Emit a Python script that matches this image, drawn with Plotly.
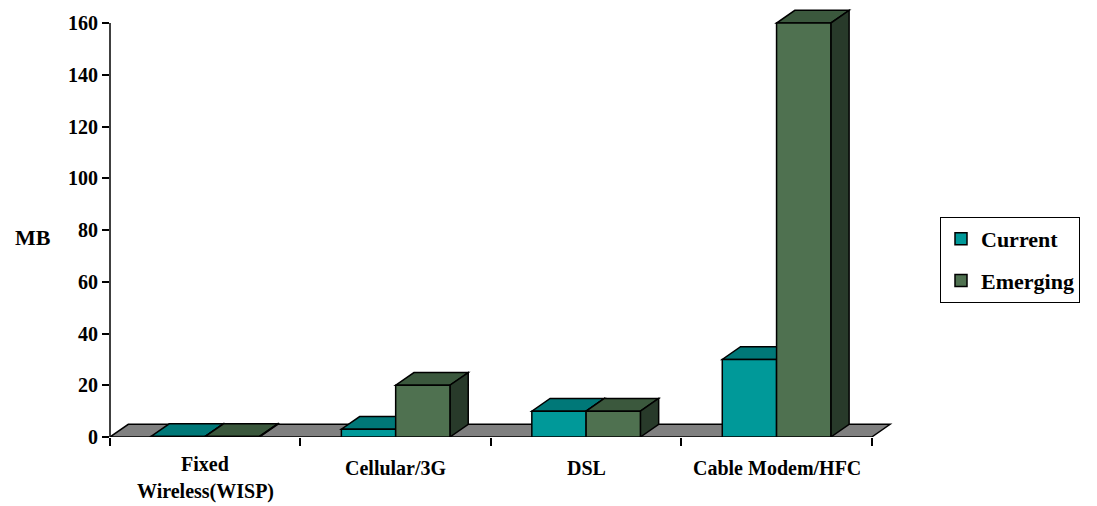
import plotly.graph_objects as go

# ---- data ----
categories = ["Fixed\nWireless(WISP)", "Cellular/3G", "DSL", "Cable Modem/HFC"]
series_names = ["Current", "Emerging"]
current = [0.2, 3, 10, 30]
emerging = [0.2, 20, 10, 160]
y_ticks = [0, 20, 40, 60, 80, 100, 120, 140, 160]
y_title = "MB"

# ---- style ----
W = 0.285      # bar width (category units)
DX = 0.096     # 3D depth, x (category units)
DY = 4.9       # 3D depth, y (data units)
FONT = "'Liberation Serif', Tinos, 'Times New Roman', serif"
styles = {
    "Current": dict(front="#009999", top="#007878", side="#005A5A", offset=-W),
    "Emerging": dict(front="#4F7150", top="#3B583D", side="#283A2A", offset=0.0),
}
values = {"Current": current, "Emerging": emerging}
n = len(categories)
xs = list(range(n))

L, R, T, B = 110, 130, 8, 69
PW, PH = 1097 - L - R, 506 - T - B

fig = go.Figure()

shapes = []
# floor
fx0, fx1 = -0.5, n - 0.5
shapes.append(dict(type="path", xref="x", yref="y", layer="below",
                   path=f"M {fx0},0 L {fx1},0 L {fx1+DX},{DY} L {fx0+DX},{DY} Z",
                   fillcolor="#808080", line=dict(color="black", width=1.5)))

for i in xs:
    for s in series_names:
        st = styles[s]
        h = values[s][i]
        x0 = i + st["offset"]
        x1 = x0 + W
        shapes.append(dict(type="path", xref="x", yref="y", layer="below",
                           path=f"M {x0},{h} L {x1},{h} L {x1+DX},{h+DY} L {x0+DX},{h+DY} Z",
                           fillcolor=st["top"], line=dict(color="black", width=1.5)))
        shapes.append(dict(type="path", xref="x", yref="y", layer="below",
                           path=f"M {x1},0 L {x1},{h} L {x1+DX},{h+DY} L {x1+DX},{DY} Z",
                           fillcolor=st["side"], line=dict(color="black", width=1.5)))

for s in series_names:
    st = styles[s]
    fig.add_trace(go.Bar(
        x=xs, y=values[s], name=s, width=W, offset=st["offset"],
        marker=dict(color=st["front"], line=dict(color="black", width=1.5)),
        legendgroup=s,
    ))

# y axis line up to the top tick
shapes.append(dict(type="line", xref="paper", yref="y", x0=0, x1=0,
                   y0=y_ticks[0], y1=y_ticks[-1], line=dict(color="black", width=1.5)))

annotations = []
for i, lab in enumerate(categories):
    lines = lab.split("\n")
    base = -31 if len(lines) == 1 else -27
    for j, line in enumerate(lines):
        annotations.append(dict(x=i, y=0, xref="x", yref="y", text=line, showarrow=False,
                                yshift=base - 27 * j, yanchor="middle", xanchor="center",
                                font=dict(family=FONT, size=20, color="black", weight="bold")))
annotations.append(dict(x=0, y=(506 - B - 237) / PH, xref="paper", yref="paper",
                        text=y_title, showarrow=False,
                        xshift=-77, xanchor="center", yanchor="middle",
                        font=dict(family=FONT, size=22, color="black", weight="bold")))

fig.update_layout(
    width=1097, height=506, autosize=False,
    margin=dict(l=L, r=R, t=T, b=B, autoexpand=False),
    paper_bgcolor="white", plot_bgcolor="white",
    barmode="overlay",
    font=dict(family=FONT, size=20, color="black", weight="bold"),
    shapes=shapes, annotations=annotations,
    xaxis=dict(range=[-0.5, 4.0], tickmode="array",
               tickvals=[k - 0.5 for k in range(n + 1)],
               ticks="outside", ticklen=8, tickwidth=1.5, tickcolor="black",
               showticklabels=False, showline=False, showgrid=False, zeroline=False),
    yaxis=dict(range=[0, 165.8], tickmode="array", tickvals=y_ticks,
               ticks="outside", ticklen=7, tickwidth=1.5, tickcolor="black",
               showline=False, showgrid=False, zeroline=False,
               tickfont=dict(family=FONT, size=20, color="black", weight="bold")),
    legend=dict(xref="paper", yref="paper", x=(940 - L) / PW, y=(506 - B - 217) / PH,
                xanchor="left", yanchor="top", bordercolor="black", borderwidth=1,
                tracegroupgap=10, traceorder="grouped",
                font=dict(family=FONT, size=22, color="black", weight="bold")),
)

fig.write_html("out.html")
